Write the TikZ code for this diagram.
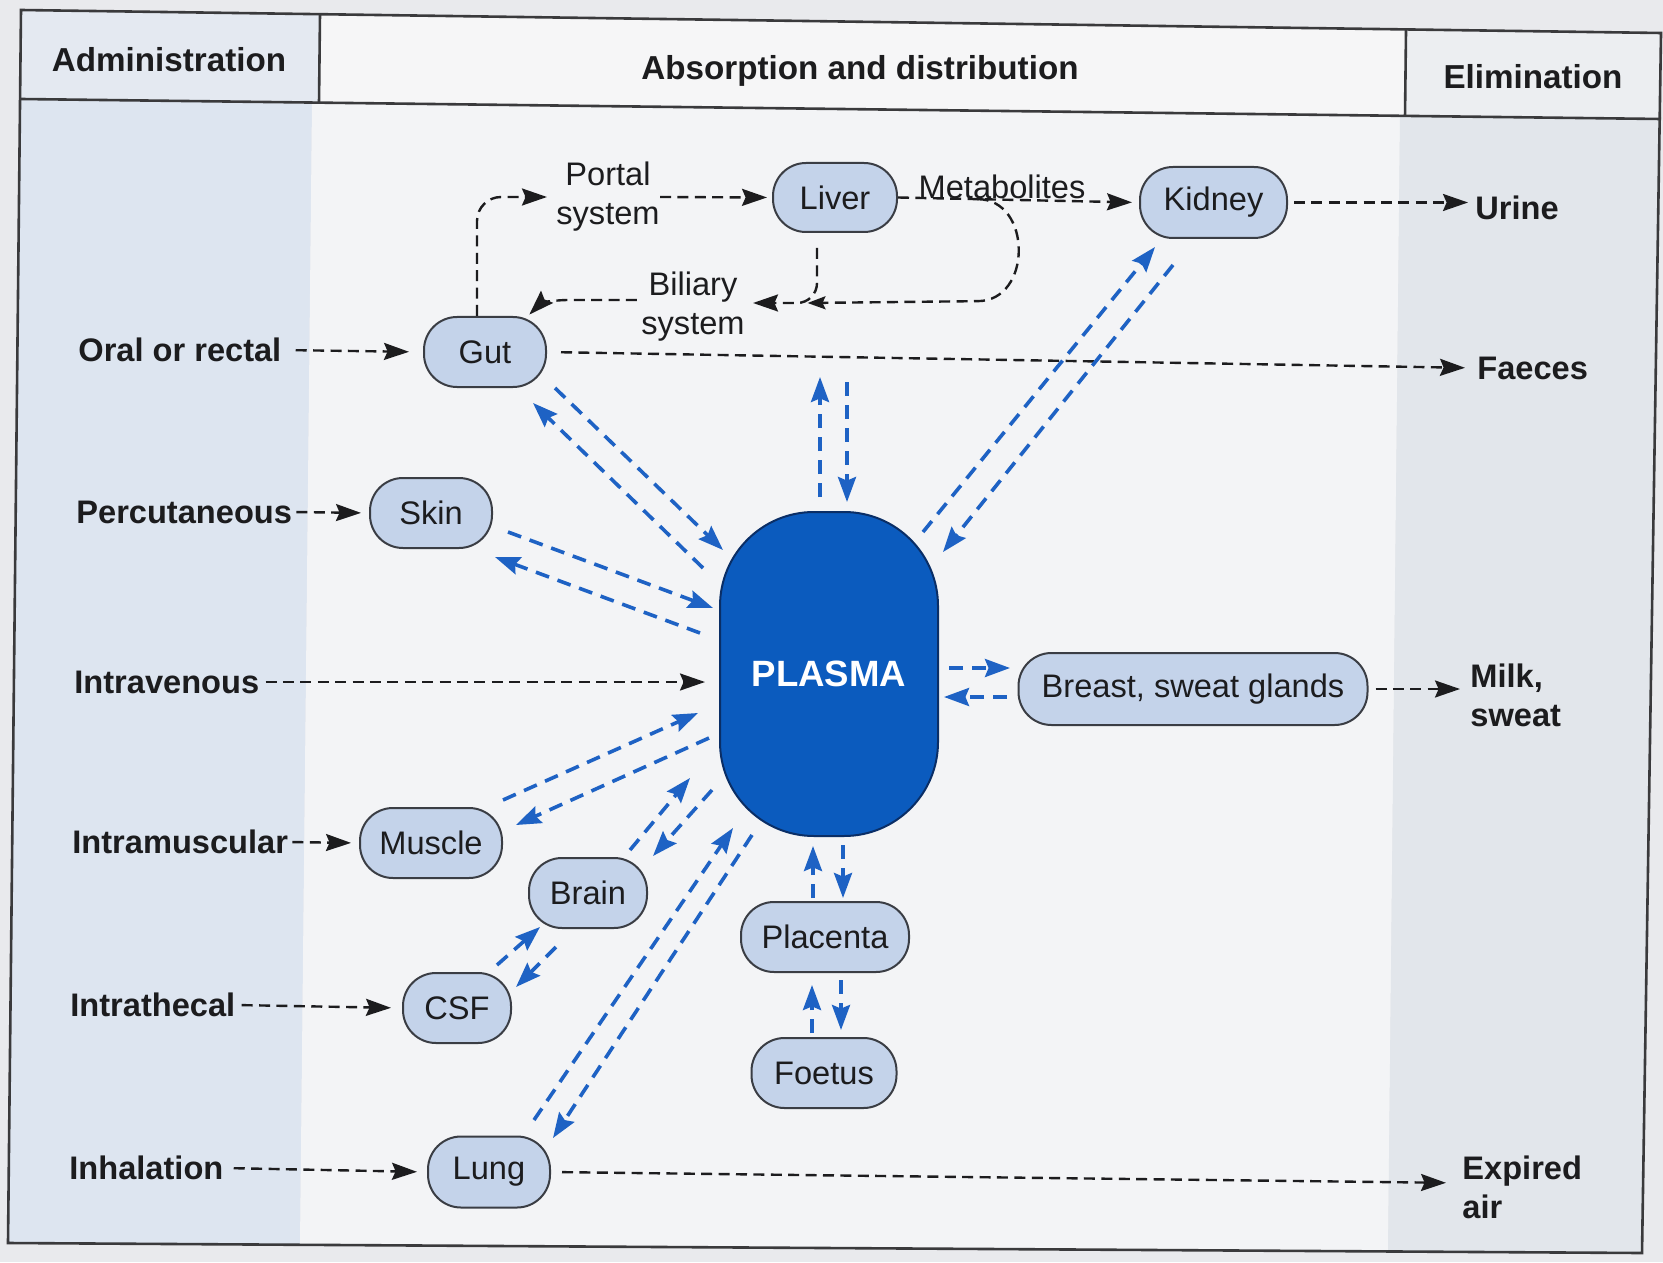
\documentclass[tikz,border=0pt]{standalone}
\usepackage{fontspec}
\setmainfont{Liberation Sans}
\usetikzlibrary{arrows.meta,calc}

\definecolor{page}{HTML}{E9EAED}
\definecolor{colAh}{HTML}{E4E9F1}
\definecolor{colA}{HTML}{DDE5F0}
\definecolor{colBh}{HTML}{F6F6F7}
\definecolor{colB}{HTML}{F3F4F6}
\definecolor{colCh}{HTML}{ECEEF1}
\definecolor{colC}{HTML}{E2E6EB}
\definecolor{ink}{HTML}{1C1C1E}
\definecolor{framecol}{HTML}{3A3A3C}
\definecolor{organfill}{HTML}{C4D3EA}
\definecolor{organline}{HTML}{3A3D44}
\definecolor{plasmablue}{HTML}{0B5BBE}
\definecolor{plasmaline}{HTML}{0A2E66}
\definecolor{flowblue}{HTML}{1E62C4}

\newcommand\lblfont{\fontsize{16.3pt}{19.5pt}\selectfont}
\newcommand\boldlbl{\fontsize{16.3pt}{19.5pt}\selectfont\bfseries}
\newcommand\hdrfont{\fontsize{16.6pt}{19.5pt}\selectfont\bfseries}
\newcommand\plasmafont{\fontsize{18.3pt}{22pt}\selectfont\bfseries}

\begin{document}
\begin{tikzpicture}[x=0.5pt,y=-0.5pt,
  organ/.style={draw=organline, line width=1pt, fill=organfill, rounded corners=16.5pt,
    inner sep=0pt, font=\lblfont, text=ink, minimum height=35pt},
  blk/.style={draw=ink, line width=1.2pt, dash pattern=on 5.5pt off 3.2pt,
    -{Stealth[length=12.5pt,width=8.5pt,inset=1.8pt]}},
  blu/.style={draw=flowblue, line width=1.8pt, dash pattern=on 7pt off 4.5pt,
    -{Stealth[length=12.5pt,width=9pt,inset=1.8pt]}},
  route/.style={font=\boldlbl, text=ink, anchor=west, inner sep=0pt},
  outlet/.style={font=\boldlbl, text=ink, anchor=west, inner sep=0pt, align=left},
  hdr/.style={font=\hdrfont, text=ink, inner sep=0pt, anchor=base},
  tag/.style={font=\lblfont, text=ink, inner sep=0pt, align=center}]

\useasboundingbox (0,0) rectangle (1663,1262);
\fill[page] (0,0) rectangle (1663,1262);

% column shading
\fill[colAh] (21,10) -- (320,14) -- (319,103) -- (21,99) -- cycle;
\fill[colBh] (320,14) -- (1406,30) -- (1405,116) -- (319,103) -- cycle;
\fill[colCh] (1406,30) -- (1661,33) -- (1661,119) -- (1405,116) -- cycle;
\fill[colA] (21,99) -- (312,103) -- (300,1245) -- (8,1243) -- cycle;
\fill[colB] (312,103) -- (1400,116) -- (1388,1251) -- (300,1245) -- cycle;
\fill[colC] (1400,116) -- (1661,119) -- (1642,1253) -- (1388,1251) -- cycle;

% table frame
\draw[framecol, line width=1.3pt] (21,10) -- (1661,33) -- (1642,1253) -- (8,1243) -- cycle;
\draw[framecol, line width=1.3pt] (21,99) -- (1661,119);
\draw[framecol, line width=1.3pt] (320,14) -- (319,103);
\draw[framecol, line width=1.3pt] (1406,30) -- (1405,116);

% headings
\node[hdr] (hadmin) at (169,72) {Administration};
\node[hdr] (habs) at (860,80) {Absorption and distribution};
\node[hdr] (helim) at (1533,89) {Elimination};

% routes of administration
\node[route] (oral) at (78,350) {Oral or rectal};
\node[route] (perc) at (76,512) {Percutaneous};
\node[route] (iv) at (74,682) {Intravenous};
\node[route] (im) at (72,842) {Intramuscular};
\node[route] (it) at (70,1005) {Intrathecal};
\node[route] (inh) at (69,1168) {Inhalation};

% compartments
\node[organ, minimum width=62pt, minimum height=34.5pt] (liver) at (835,197.5) {Liver};
\node[organ, minimum width=73.5pt, minimum height=35.5pt] (kidney) at (1213.5,202.5) {Kidney};
\node[organ, minimum width=61pt] (gut) at (485,352) {Gut};
\node[organ, minimum width=61pt] (skin) at (431,513) {Skin};
\node[organ, minimum width=71pt] (muscle) at (431,843) {Muscle};
\node[organ, minimum width=59pt] (brain) at (588,893) {Brain};
\node[organ, minimum width=54pt] (csf) at (457,1008) {CSF};
\node[organ, minimum width=61pt, minimum height=35.5pt] (lung) at (489,1172) {Lung};
\node[organ, minimum width=84pt] (placenta) at (825,937) {Placenta};
\node[organ, minimum width=72.5pt] (foetus) at (824,1073) {Foetus};
\node[organ, minimum width=174.5pt, minimum height=36pt] (breast) at (1193,689) {Breast, sweat glands};
\node[draw=plasmaline, line width=1pt, fill=plasmablue, rounded corners=47pt,
  minimum width=109pt, minimum height=162pt, inner sep=0pt,
  font=\plasmafont, text=white] (plasma) at (829,674) {PLASMA};

% intermediate labels
\node[tag] (portal) at (608,197) {Portal\\system};
\node[tag] (biliary) at (693,307) {Biliary\\system};
\node[tag] (metab) at (1002,187) {Metabolites};

% routes of elimination
\node[outlet] (urine) at (1475,208) {Urine};
\node[outlet] (faeces) at (1477,368) {Faeces};
\node[outlet] (milk) at (1470,695) {Milk,\\sweat};
\node[outlet] (expired) at (1462,1187) {Expired\\air};

% administration arrows
\draw[blk, shorten <=7pt, shorten >=7pt] (oral.east) -- (gut.west);
\draw[blk, shorten <=2pt, shorten >=4pt] (perc.east) -- (skin.west);
\draw[blk, shorten <=3pt, shorten >=7pt] (iv.east) -- (iv.east -| plasma.west);
\draw[blk, shorten <=2pt, shorten >=4pt] (im.east) -- (muscle.west);
\draw[blk, shorten <=3pt, shorten >=5.5pt] (it.east) -- (csf.west);
\draw[blk, shorten <=5pt, shorten >=5pt] (inh.east) -- (lung.west);

% gut, portal and biliary circulation
\draw[blk, rounded corners=12pt, shorten >=4.5pt] ([xshift=-4pt]gut.north) |- (portal.west);
\draw[blk, shorten >=2.5pt] (portal.east) -- (liver.west);
\draw[blk, shorten >=3.5pt] (liver.east) -- (kidney.west);
\draw[blk, rounded corners=10pt, shorten <=7.5pt, shorten >=4pt]
  ([xshift=-9pt]liver.south) |- ([yshift=2pt]biliary.east);
\coordinate (msplit) at ($(liver.east)!0.33!(kidney.west)$);
\coordinate (bjoin) at ($(biliary.east)+(62.5,-4)$);
\draw[blk, -{Stealth[length=9pt,width=6.5pt,inset=1.5pt]}] (msplit)
  .. controls ($(msplit)+(55,0)$) and ($(msplit)+(55,102)$) .. ($(msplit)+(0,102)$) -- (bjoin);
\draw[blk, shorten <=2pt, shorten >=1pt] ([yshift=3.5pt]biliary.west) -- ++(-36pt,0)
  to[out=180,in=45] (gut.40);

% elimination arrows
\draw[blk, shorten <=7pt, shorten >=6pt] (gut.east) -- (faeces.west);
\draw[blk, shorten <=3pt, shorten >=3.5pt] (kidney.east) -- (kidney.east -| urine.west);
\draw[blk, shorten <=3.5pt, shorten >=5pt] (breast.east) -- (breast.east -| milk.west);
\draw[blk, shorten <=5.5pt, shorten >=8pt] (lung.east) -- ([yshift=2pt]expired.west);

% exchange with plasma
\draw[blu] ([shift={(70,36)}]gut.center) -- ([shift={(-106,-124)}]plasma.center);
\draw[blu] ([shift={(-126,-106)}]plasma.center) -- ([shift={(48,51)}]gut.center);
\draw[blu] ([shift={(77,19)}]skin.center) -- ([shift={(-116,-66)}]plasma.center);
\draw[blu] ([shift={(-129,-41)}]plasma.center) -- ([shift={(64,44)}]skin.center);
\draw[blu] ([shift={(72,-43)}]muscle.center) -- ([shift={(-131,39)}]plasma.center);
\draw[blu] ([shift={(-120,64)}]plasma.center) -- ([shift={(85,-18)}]muscle.center);
\draw[blu] ([shift={(42,-43)}]brain.center) -- ([shift={(-139,104)}]plasma.center);
\draw[blu] ([shift={(-117,116)}]plasma.center) -- ([shift={(65,-37)}]brain.center);
\draw[blu] ([shift={(40,-43)}]csf.center) -- ([shift={(-48,34)}]brain.center);
\draw[blu] ([shift={(-32,54)}]brain.center) -- ([shift={(59,-21)}]csf.center);
\draw[blu] ([shift={(45,-52)}]lung.center) -- ([shift={(-96,154)}]plasma.center);
\draw[blu] ([shift={(-77,161)}]plasma.center) -- ([shift={(64,-34)}]lung.center);
\draw[blu] ([shift={(-12,-39)}]placenta.center) -- ([shift={(-16,172)}]plasma.center);
\draw[blu] ([shift={(14,171)}]plasma.center) -- ([shift={(18,-39)}]placenta.center);
\draw[blu] ([shift={(-12,-40)}]foetus.center) -- ([shift={(-13,48)}]placenta.center);
\draw[blu] ([shift={(16,43)}]placenta.center) -- ([shift={(17,-43)}]foetus.center);
\draw[blu] ([shift={(-9,-177)}]plasma.center) -- ([shift={(-9,-297)}]plasma.center);
\draw[blu] ([shift={(18,-292)}]plasma.center) -- ([shift={(18,-172)}]plasma.center);
\draw[blu] ([shift={(94,-142)}]plasma.center) -- ([shift={(-58.5,44.5)}]kidney.center);
\draw[blu] ([shift={(-40.5,62.5)}]kidney.center) -- ([shift={(114,-122)}]plasma.center);
\draw[blu] ([shift={(120,-6)}]plasma.center) -- ([shift={(-183,-21)}]breast.center);
\draw[blu] ([shift={(-186,8)}]breast.center) -- ([shift={(115,23)}]plasma.center);
\end{tikzpicture}
\end{document}
